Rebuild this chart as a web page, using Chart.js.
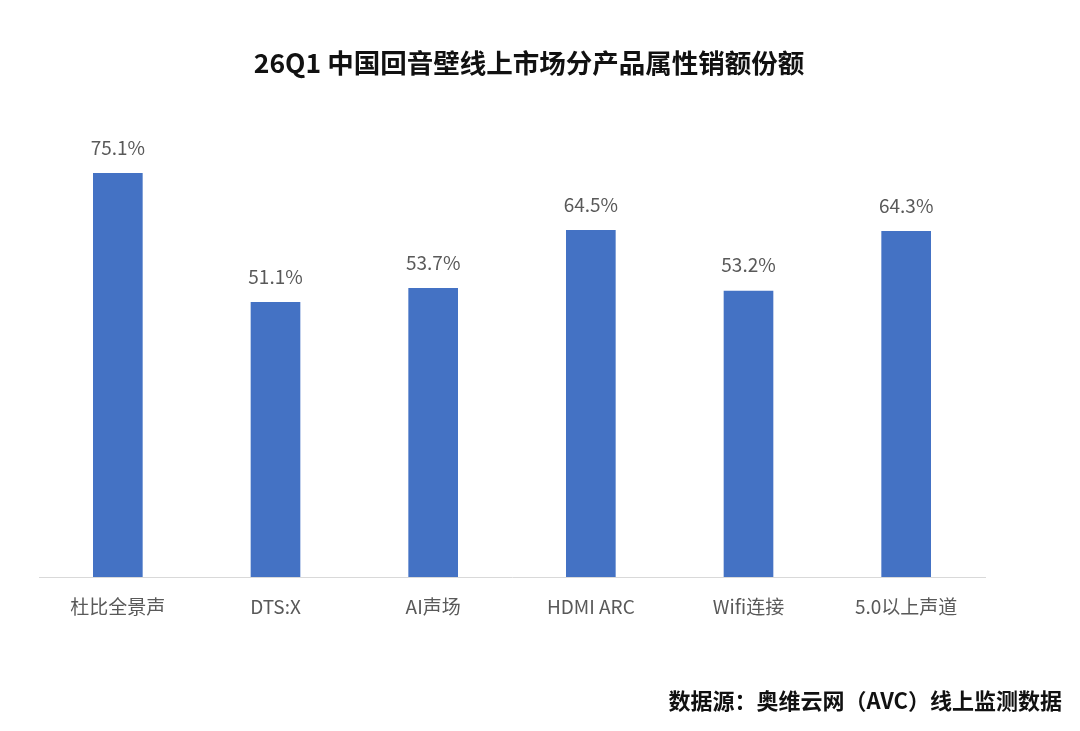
<!DOCTYPE html>
<html>
<head>
<meta charset="utf-8">
<script src="https://cdn.jsdelivr.net/npm/chart.js@4"></script>
<style>
  html, body { margin: 0; padding: 0; background: #fff; }
  #wrap { position: relative; width: 1080px; height: 731px; overflow: hidden; }
  #c { position: absolute; left: 0; top: 0; }
  #title { position: absolute; left: 0; width: 1058px; top: 44px; text-align: center;
    font-family: "Noto Sans CJK SC", sans-serif; font-weight: bold; font-size: 26.5px; line-height: 36px; color: #111; }
  #source { position: absolute; right: 18px; top: 684px;
    font-family: "Noto Sans CJK SC", sans-serif; font-weight: bold; font-size: 22px; line-height: 30px; color: #111; }
</style>
</head>
<body>
<div id="wrap">
  <canvas id="c" width="1080" height="731"></canvas>
  <div id="title">26Q1 中国回音壁线上市场分产品属性销额份额</div>
  <div id="source">数据源：奥维云网（AVC）线上监测数据</div>
</div>
<script>
const categories = ["杜比全景声", "DTS:X", "AI声场", "HDMI ARC", "Wifi连接", "5.0以上声道"];
const shareValues = [75.1, 51.1, 53.7, 64.5, 53.2, 64.3];

const labelPlugin = {
  id: 'barLabels',
  afterDatasetsDraw(chart) {
    const ctx = chart.ctx;
    const meta = chart.getDatasetMeta(0);
    ctx.save();
    ctx.font = '19px "Noto Sans CJK SC", sans-serif';
    ctx.fillStyle = '#595959';
    ctx.textAlign = 'center';
    ctx.textBaseline = 'middle';
    meta.data.forEach((bar, i) => {
      ctx.fillText(shareValues[i].toFixed(1) + '%', bar.x, bar.y - 26);
    });
    ctx.restore();
  }
};

new Chart(document.getElementById('c'), {
  type: 'bar',
  data: {
    labels: categories,
    datasets: [{
      data: shareValues,
      backgroundColor: '#4472C4',
      borderWidth: 0,
      barThickness: 49
    }]
  },
  options: {
    responsive: false,
    animation: false,
    events: [],
    layout: { padding: { left: 39, right: 95, top: 147, bottom: 0 } },
    plugins: { legend: { display: false }, tooltip: { enabled: false }, title: { display: false } },
    scales: {
      x: {
        grid: { display: false, drawTicks: false },
        border: { display: true, color: '#d9d9d9', width: 1 },
        ticks: { color: '#595959', font: { family: '"Noto Sans CJK SC", sans-serif', size: 19 }, padding: 18, maxRotation: 0, autoSkip: false },
        afterFit(scale) { scale.height = 154; }
      },
      y: {
        display: false,
        min: 0,
        max: 80
      }
    }
  },
  plugins: [labelPlugin]
});
</script>
</body>
</html>
